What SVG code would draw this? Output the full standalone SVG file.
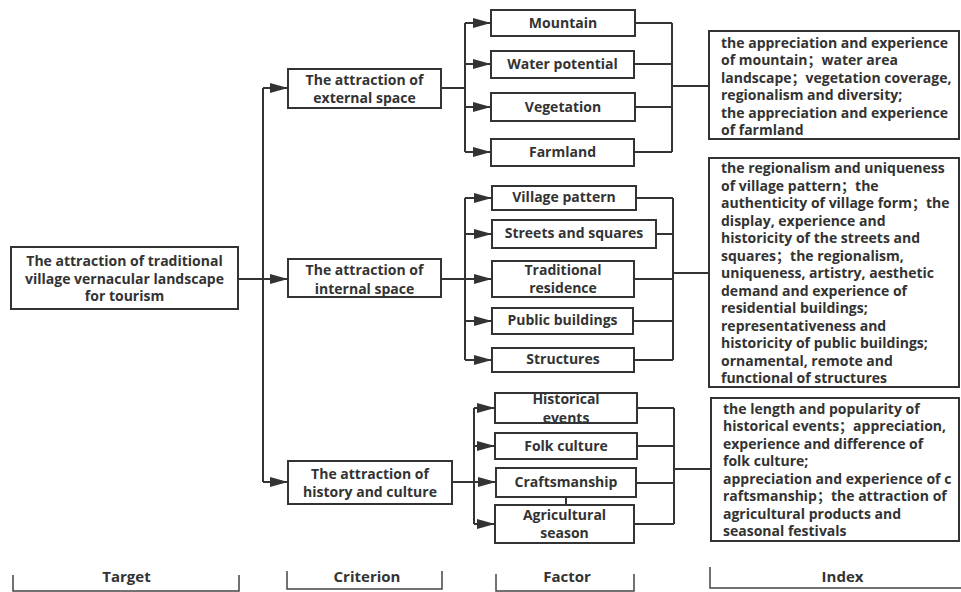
<svg xmlns="http://www.w3.org/2000/svg" width="961" height="592" viewBox="0 0 961 592">
<defs>
<style>
.box{fill:#fff;stroke:#333;stroke-width:2}
.t{font-family:"Open Sans","Noto Sans CJK SC",sans-serif;font-weight:700;font-size:14px;fill:#333;text-anchor:middle}
.ix{font-family:"Open Sans","Noto Sans CJK SC",sans-serif;font-weight:700;font-size:14px;fill:#333}
.lab{font-family:"Open Sans",sans-serif;font-weight:700;font-size:15px;fill:#333;text-anchor:middle}
.ln{fill:none;stroke:#333;stroke-width:2}
.ar{fill:none;stroke:#333;stroke-width:2;marker-end:url(#ah)}
.br{fill:none;stroke:#444;stroke-width:1.5}
</style>
<marker id="ah" markerUnits="userSpaceOnUse" markerWidth="18" markerHeight="10" refX="18" refY="5" orient="auto">
<path d="M0,0 L18,5 L0,10 z" fill="#333"/>
</marker>
</defs>
<rect width="961" height="592" fill="#fff"/>

<g id="connectors">
<path class="ln" d="M263,88 V482"/>
<path class="ar" d="M238,279 H288"/>
<path class="ar" d="M263,88 H288"/>
<path class="ar" d="M263,482 H288"/>
<path class="ln" d="M441,88 H465 M465,23 V152"/>
<path class="ar" d="M465,23 H491"/>
<path class="ar" d="M465,64 H491"/>
<path class="ar" d="M465,107 H491"/>
<path class="ar" d="M465,152 H491"/>
<path class="ln" d="M635,23 H672 M634,64 H672 M635,107 H672 M634,152 H672 M672,23 V152 M672,86 H709"/>
<path class="ln" d="M441,279 H465 M465,198 V360"/>
<path class="ar" d="M465,198 H492"/>
<path class="ar" d="M465,234 H492"/>
<path class="ar" d="M465,279 H492"/>
<path class="ar" d="M465,321 H492"/>
<path class="ar" d="M465,360 H492"/>
<path class="ln" d="M636,198 H673 M656,234 H673 M634,279 H673 M633,321 H673 M634,360 H673 M673,198 V360 M673,273 H709"/>
<path class="ln" d="M452,482 H474 M474,408 V524"/>
<path class="ar" d="M474,408 H495"/>
<path class="ar" d="M474,446 H495"/>
<path class="ar" d="M474,482 H496"/>
<path class="ar" d="M474,524 H495"/>
<path class="ln" d="M637,408 H674 M637,446 H674 M636,483 H674 M634,524 H674 M674,408 V524 M674,469 H711"/>
<path class="ln" d="M566,497 V505"/>
</g>

<g id="target">
<rect class="box" x="11" y="247" width="227" height="62"/>
<text class="t" x="124.5" y="266">The attraction of traditional</text>
<text class="t" x="124.5" y="283.5">village vernacular landscape</text>
<text class="t" x="124.5" y="301">for tourism</text>
</g>

<g id="crit-external">
<rect class="box" x="288" y="69" width="153" height="39"/>
<text class="t" x="364.5" y="85">The attraction of</text>
<text class="t" x="364.5" y="103">external space</text>
</g>
<g id="crit-internal">
<rect class="box" x="288" y="259" width="153" height="38"/>
<text class="t" x="364.5" y="275">The attraction of</text>
<text class="t" x="364.5" y="294">internal space</text>
</g>
<g id="crit-history">
<rect class="box" x="288" y="461" width="164" height="43"/>
<text class="t" x="370" y="479">The attraction of</text>
<text class="t" x="370" y="497">history and culture</text>
</g>

<g id="f-mountain"><rect class="box" x="491" y="10" width="144" height="26"/><text class="t" x="563" y="28">Mountain</text></g>
<g id="f-water"><rect class="box" x="491" y="51" width="143" height="27"/><text class="t" x="562.5" y="69">Water potential</text></g>
<g id="f-vegetation"><rect class="box" x="491" y="93" width="144" height="28"/><text class="t" x="563" y="112">Vegetation</text></g>
<g id="f-farmland"><rect class="box" x="491" y="139" width="143" height="27"/><text class="t" x="562.5" y="157">Farmland</text></g>

<g id="f-village"><rect class="box" x="492" y="186" width="144" height="24"/><text class="t" x="564" y="202">Village pattern</text></g>
<g id="f-streets"><rect class="box" x="492" y="220" width="164" height="28"/><text class="t" x="574" y="238">Streets and squares</text></g>
<g id="f-residence"><rect class="box" x="492" y="261" width="142" height="36"/><text class="t" x="563" y="275">Traditional</text><text class="t" x="563" y="293">residence</text></g>
<g id="f-public"><rect class="box" x="492" y="308" width="141" height="26"/><text class="t" x="562.5" y="325">Public buildings</text></g>
<g id="f-structures"><rect class="box" x="492" y="348" width="142" height="24"/><text class="t" x="563" y="364">Structures</text></g>

<g id="f-historical"><rect class="box" x="495" y="393" width="142" height="30"/><text class="t" x="566" y="404">Historical</text><text class="t" x="566" y="423">events</text></g>
<g id="f-folk"><rect class="box" x="495" y="433" width="142" height="26"/><text class="t" x="566" y="451">Folk culture</text></g>
<g id="f-craft"><rect class="box" x="496" y="468" width="140" height="29"/><text class="t" x="566" y="487">Craftsmanship</text></g>
<g id="f-agri"><rect class="box" x="495" y="505" width="139" height="38"/><text class="t" x="564.5" y="520">Agricultural</text><text class="t" x="564.5" y="538">season</text></g>

<g id="index-external">
<rect class="box" x="709" y="31" width="250" height="108"/>
<text class="ix" x="721" y="48">the appreciation and experience</text>
<text class="ix" x="721" y="65.4">of mountain；water area</text>
<text class="ix" x="721" y="82.8">landscape；vegetation coverage,</text>
<text class="ix" x="721" y="100.2">regionalism and diversity;</text>
<text class="ix" x="721" y="117.6">the appreciation and experience</text>
<text class="ix" x="721" y="135">of farmland</text>
</g>
<g id="index-internal">
<rect class="box" x="709" y="158" width="250" height="229"/>
<text class="ix" x="721" y="173">the regionalism and uniqueness</text>
<text class="ix" x="721" y="190.5">of village pattern；the</text>
<text class="ix" x="721" y="208">authenticity of village form；the</text>
<text class="ix" x="721" y="225.5">display, experience and</text>
<text class="ix" x="721" y="243">historicity of the streets and</text>
<text class="ix" x="721" y="260.5">squares；the regionalism,</text>
<text class="ix" x="721" y="278">uniqueness, artistry, aesthetic</text>
<text class="ix" x="721" y="295.5">demand and experience of</text>
<text class="ix" x="721" y="313">residential buildings;</text>
<text class="ix" x="721" y="330.5">representativeness and</text>
<text class="ix" x="721" y="348">historicity of public buildings;</text>
<text class="ix" x="721" y="365.5">ornamental, remote and</text>
<text class="ix" x="721" y="383">functional of structures</text>
</g>
<g id="index-history">
<rect class="box" x="711" y="398" width="248" height="143"/>
<text class="ix" x="723" y="414">the length and popularity of</text>
<text class="ix" x="723" y="431.4">historical events；appreciation,</text>
<text class="ix" x="723" y="448.9">experience and difference of</text>
<text class="ix" x="723" y="466.3">folk culture;</text>
<text class="ix" x="723" y="483.7">appreciation and experience of c</text>
<text class="ix" x="723" y="501.2">raftsmanship；the attraction of</text>
<text class="ix" x="723" y="518.6">agricultural products and</text>
<text class="ix" x="723" y="536">seasonal festivals</text>
</g>

<g id="legend">
<path class="br" d="M13,575 V591 H239 V575"/>
<text class="lab" x="126.5" y="581.5">Target</text>
<path class="br" d="M287,571 V589 H442 V571"/>
<text class="lab" x="367" y="581.5">Criterion</text>
<path class="br" d="M496,574 V591 H634 V574"/>
<text class="lab" x="567" y="581.5">Factor</text>
<path class="br" d="M710,567 V588 H961"/>
<text class="lab" x="842.5" y="581.5">Index</text>
</g>
</svg>
